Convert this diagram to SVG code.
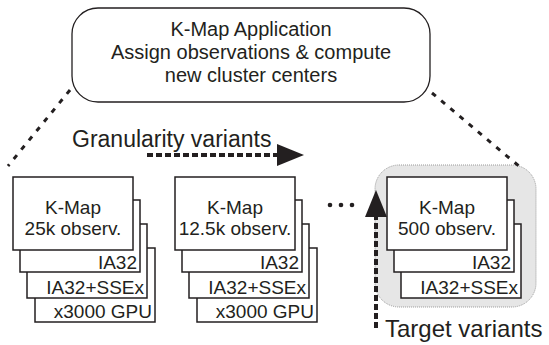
<svg xmlns="http://www.w3.org/2000/svg" width="549" height="345" viewBox="0 0 549 345">
<style>
text{font-family:"Liberation Sans",Arial,sans-serif;fill:#231f20}
.box{fill:#fff;stroke:#231f20;stroke-width:1.5}
.t{font-size:19px}
.r{text-anchor:end}
.m{text-anchor:middle}
.dot{fill:none;stroke:#231f20;stroke-width:3;stroke-dasharray:5 7}
.dash{fill:none;stroke:#231f20;stroke-width:4;stroke-dasharray:6 3}
</style>
<g id="app">
<rect x="72" y="8" width="358" height="94" rx="26" fill="#fff" stroke="#231f20" stroke-width="1.3"/>
<text class="m" x="251" y="36" font-size="20">K-Map Application</text>
<text class="m" x="251" y="59" font-size="20">Assign observations &amp; compute</text>
<text class="m" x="251" y="82" font-size="20">new cluster centers</text>
</g>
<g id="target-bg">
<rect x="375" y="165" width="161" height="142" rx="24" fill="#e6e6e6" stroke="#999" stroke-width="1" stroke-dasharray="1 1"/>
</g>
<g id="connectors">
<line class="dot" x1="70" y1="90" x2="8" y2="166"/>
<line class="dot" x1="432" y1="93" x2="520" y2="167"/>
<line class="dash" x1="147" y1="155" x2="279" y2="155"/>
<path d="M277,144 L304,155 L277,166 z" fill="#231f20"/>
<line class="dash" x1="376" y1="328" x2="376" y2="215"/>
<path d="M365,217 L376,190 L387,217 z" fill="#231f20"/>
</g>
<g id="variant-25k">
<rect class="box" x="35" y="248" width="120" height="74"/>
<text class="t r" x="152" y="318">x3000 GPU</text>
<rect class="box" x="27" y="224" width="120" height="74"/>
<text class="t r" x="144" y="294">IA32+SSEx</text>
<rect class="box" x="20" y="200" width="120" height="72"/>
<text class="t r" x="137" y="269">IA32</text>
<rect class="box" x="13" y="177" width="120" height="73"/>
<text class="t m" x="73" y="214">K-Map</text>
<text class="t m" x="73" y="235">25k observ.</text>
</g>
<g id="variant-12k">
<rect class="box" x="197" y="248" width="120" height="74"/>
<text class="t r" x="314" y="318">x3000 GPU</text>
<rect class="box" x="189" y="224" width="120" height="74"/>
<text class="t r" x="306" y="294">IA32+SSEx</text>
<rect class="box" x="182" y="200" width="120" height="72"/>
<text class="t r" x="299" y="269">IA32</text>
<rect class="box" x="175" y="177" width="120" height="73"/>
<text class="t m" x="235" y="214">K-Map</text>
<text class="t m" x="235" y="235">12.5k observ.</text>
</g>
<g id="ellipsis">
<circle cx="330" cy="205" r="2.3" fill="#231f20"/>
<circle cx="341" cy="205" r="2.3" fill="#231f20"/>
<circle cx="352" cy="205" r="2.3" fill="#231f20"/>
</g>
<g id="variant-500">
<rect class="box" x="401" y="224" width="120" height="74"/>
<text class="t r" x="518" y="294">IA32+SSEx</text>
<rect class="box" x="394" y="200" width="120" height="72"/>
<text class="t r" x="511" y="269">IA32</text>
<rect class="box" x="387" y="177" width="120" height="73"/>
<text class="t m" x="447" y="214">K-Map</text>
<text class="t m" x="447" y="235">500 observ.</text>
</g>
<text x="72" y="147" font-size="23">Granularity variants</text>
<text x="385" y="337" font-size="24">Target variants</text>
</svg>
